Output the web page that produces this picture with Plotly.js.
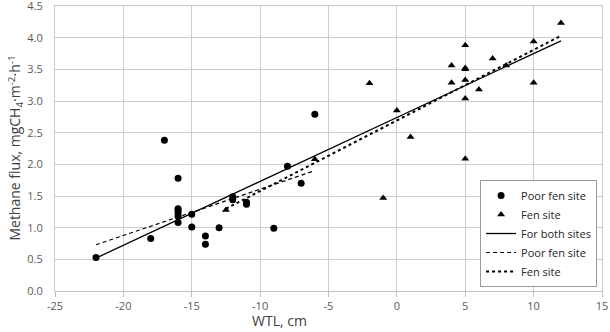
<!DOCTYPE html>
<html>
<head>
<meta charset="utf-8">
<script src="https://cdn.plot.ly/plotly-3.0.1.min.js"></script>
<style>
  html, body { margin: 0; padding: 0; background: #fff; }
  #chart { width: 610px; height: 332px; }
</style>
</head>
<body>
<div id="chart"></div>
<script>
// poor fen site measurements
let poorX = [-22, -18, -17, -16, -16, -16, -16, -16, -16, -15, -15, -14, -14, -13, -12, -12, -11, -11, -9, -8, -7, -6];
let poorY = [0.53, 0.83, 2.38, 1.78, 1.30, 1.27, 1.23, 1.18, 1.08, 1.21, 1.01, 0.87, 0.74, 1.00, 1.49, 1.44, 1.40, 1.37, 0.99, 1.97, 1.70, 2.79];

// fen site measurements
let fenX = [-12.5, -6, -2, -1, 0, 1, 4, 4, 5, 5, 5, 5, 5, 5, 6, 7, 8, 10, 10, 12];
let fenY = [1.28, 2.08, 3.28, 1.47, 2.85, 2.43, 3.56, 3.29, 3.88, 3.52, 3.50, 3.33, 3.04, 2.09, 3.18, 3.67, 3.56, 3.94, 3.29, 4.23];

// trend lines (end points)
let bothFitX = [-22, 12];
let bothFitY = [0.52, 3.95];
let poorFitX = [-22, -6];
let poorFitY = [0.73, 1.90];
let fenFitX = [-12.5, 12];
let fenFitY = [1.30, 4.03];

let xTicks = [-25, -20, -15, -10, -5, 0, 5, 10, 15];
let xLabels = ['-25', '-20', '-15', '-10', '-5', '0', '5', '10', '15'];
let yTicks = [0, 0.5, 1, 1.5, 2, 2.5, 3, 3.5, 4, 4.5];
let yLabels = ['0.0', '0.5', '1.0', '1.5', '2.0', '2.5', '3.0', '3.5', '4.0', '4.5'];

let font = 'Open Sans, Noto Sans, sans-serif';

let data = [
    {
        x: poorX, y: poorY, type: 'scatter', mode: 'markers', name: 'Poor fen site',
        marker: {symbol: 'circle', size: 7, color: '#000'}
    },
    {
        x: fenX, y: fenY, type: 'scatter', mode: 'markers', name: 'Fen site',
        marker: {symbol: 'triangle-up', size: 7, color: '#000'}
    },
    {
        x: bothFitX, y: bothFitY, type: 'scatter', mode: 'lines', name: 'For both sites',
        line: {color: '#000', width: 1.3}
    },
    {
        x: poorFitX, y: poorFitY, type: 'scatter', mode: 'lines', name: 'Poor fen site',
        line: {color: '#000', width: 1.2, dash: '4px,3px'}
    },
    {
        x: fenFitX, y: fenFitY, type: 'scatter', mode: 'lines', name: 'Fen site',
        line: {color: '#000', width: 2, dash: 'dot'}
    }
];

let layout = {
    width: 610,
    height: 332,
    margin: {l: 55, r: 8, t: 6, b: 41},
    paper_bgcolor: '#fff',
    plot_bgcolor: '#fff',
    font: {family: font, size: 11, color: '#595959'},
    showlegend: true,
    legend: {
        x: 0.991, xanchor: 'right', y: 0.014, yanchor: 'bottom',
        bgcolor: '#fff', bordercolor: '#9a9a9a', borderwidth: 1,
        font: {family: font, size: 11, color: '#262626'},
        tracegroupgap: 0
    },
    xaxis: {
        range: [-25, 15],
        tickvals: xTicks,
        ticktext: xLabels,
        showgrid: true, gridcolor: '#cdcdcd', gridwidth: 1,
        zeroline: false,
        showline: true, mirror: true, linecolor: '#c4c4c4',
        ticks: 'outside', ticklen: 5, tickcolor: '#bfbfbf',
        ticklabeloverflow: 'allow',
        tickfont: {size: 11, color: '#595959'}
    },
    yaxis: {
        range: [0, 4.5],
        tickvals: yTicks,
        ticktext: yLabels,
        showgrid: true, gridcolor: '#cdcdcd', gridwidth: 1,
        zeroline: false,
        showline: true, mirror: true, linecolor: '#cdcdcd',
        ticks: '',
        ticklabelstandoff: 9,
        ticklabeloverflow: 'allow',
        tickfont: {size: 11, color: '#595959'}
    },
    annotations: [
        {
            text: 'WTL, cm', xref: 'paper', yref: 'paper',
            x: 0.411, y: -0.105, xanchor: 'center', yanchor: 'middle',
            showarrow: false, font: {family: font, size: 14, color: '#404040'}
        },
        {
            text: 'Methane flux, mgCH<sub>4</sub>·m<sup>-2</sup>·h<sup>-1</sup>',
            xref: 'paper', yref: 'paper', textangle: -90,
            x: -0.073, y: 0.5, xanchor: 'center', yanchor: 'middle',
            showarrow: false, font: {family: font, size: 14, color: '#404040'}
        }
    ]
};

Plotly.newPlot('chart', data, layout, {displayModeBar: false});
</script>
</body>
</html>
